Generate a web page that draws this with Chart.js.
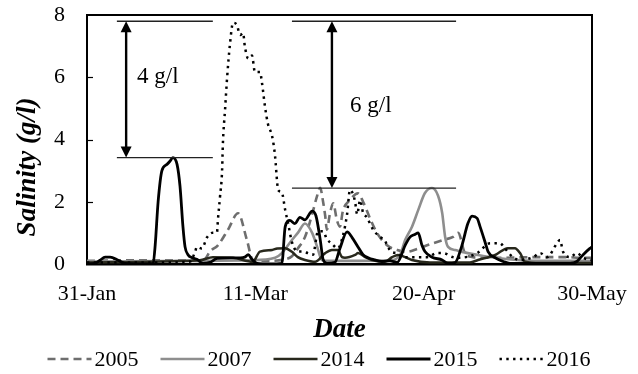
<!DOCTYPE html>
<html>
<head>
<meta charset="utf-8">
<script src="https://cdn.jsdelivr.net/npm/chart.js@4.4.1/dist/chart.umd.min.js"></script>
<style>
html,body{margin:0;padding:0;background:#ffffff;}
#wrap{width:638px;height:374px;position:relative;}
</style>
</head>
<body>
<div id="wrap"><canvas id="c" width="638" height="374"></canvas></div>
<script>
// ---------- DATA (days counted from 31-Jan; salinity in g/l) ----------
const seriesNames = ['2005', '2007', '2014', '2015', '2016'];
const tickDays   = [0, 40, 80, 120];
const tickLabels = ['31-Jan', '11-Mar', '20-Apr', '30-May'];
const yTicks     = [0, 2, 4, 6, 8];

const days2005 = [0, 10, 20, 26.1, 28.0, 29.2, 31.1, 33.5, 35.9, 38.0, 39.4, 42.3, 47.1, 48.7, 50.1, 51.8, 53.5, 54.7, 55.4, 56.1, 56.6, 57.0, 57.7, 58.5, 59.4, 60.1, 60.8, 62.5, 64.4, 65.6, 67.3, 68.9, 71.3, 73.7, 76.0, 78.4, 80.8, 84.6, 87.0, 88.2, 89.8, 91.7, 95.1, 98.1, 106.0, 110.0, 114.1, 117.2, 120];
const sal2005  = [0.1, 0.12, 0.12, 0.1, 0.15, 0.4, 0.6, 1.1, 1.63, 0.77, 0.13, 0.1, 0.15, 0.25, 0.5, 0.87, 1.6, 2.2, 2.45, 2.0, 1.55, 1.1, 1.6, 1.95, 1.4, 1.2, 1.7, 2.06, 2.27, 2.0, 1.45, 1.0, 0.6, 0.45, 0.39, 0.48, 0.6, 0.77, 0.87, 1.0, 0.35, 0.22, 0.2, 0.2, 0.22, 0.22, 0.22, 0.2, 0.2];

const days2007 = [0, 26.8, 38.7, 44.7, 46.3, 48.7, 50.1, 51.8, 53.5, 54.7, 55.8, 57.7, 64.9, 72.0, 74.4, 75.6, 77.2, 78.7, 80.3, 82.0, 83.4, 84.4, 85.1, 85.8, 87.5, 89.1, 92.9, 97.0, 102.9, 110.0, 120];
const sal2007  = [0.08, 0.1, 0.12, 0.2, 0.35, 0.77, 1.0, 1.3, 1.0, 0.55, 0.13, 0.1, 0.1, 0.12, 0.3, 0.77, 1.19, 1.73, 2.28, 2.44, 2.2, 1.64, 0.87, 0.55, 0.45, 0.39, 0.29, 0.2, 0.12, 0.1, 0.1];

const days2014 = [0, 26.8, 29.9, 34.7, 39.4, 41.1, 44.0, 45.2, 47.1, 48.7, 50.1, 51.8, 54.2, 56.6, 58.2, 59.6, 60.6, 61.3, 63.7, 64.4, 66.1, 67.7, 70.8, 72.5, 73.9, 75.6, 77.2, 81.5, 91.0, 92.9, 97.0, 100.0, 101.7, 102.9, 104.1, 107.7, 120];
const sal2014  = [0.05, 0.12, 0.22, 0.2, 0.07, 0.4, 0.45, 0.5, 0.51, 0.39, 0.22, 0.13, 0.07, 0.35, 0.45, 0.45, 0.22, 0.2, 0.29, 0.35, 0.22, 0.13, 0.07, 0.22, 0.29, 0.22, 0.13, 0.05, 0.05, 0.13, 0.29, 0.51, 0.51, 0.35, 0.07, 0.03, 0.03];

const days2015 = [0, 1.9, 3.1, 4.3, 5.5, 7.4, 9.0, 15.0, 15.7, 16.2, 16.9, 17.8, 19.0, 19.7, 20.4, 21.4, 22.1, 22.8, 23.3, 24.0, 25.0, 26.1, 27.6, 29.2, 30.9, 34.0, 36.4, 37.5, 38.3, 39.2, 40.4, 43.5, 46.3, 47.1, 48.2, 49.4, 50.6, 51.8, 53.5, 54.4, 55.4, 56.1, 57.0, 58.9, 60.1, 61.8, 63.0, 64.4, 65.6, 66.8, 68.4, 70.1, 72.0, 73.7, 75.6, 76.8, 77.9, 78.7, 79.6, 80.3, 82.0, 84.4, 85.8, 87.5, 89.1, 90.5, 91.5, 92.7, 93.4, 94.6, 95.3, 97.0, 98.9, 100.5, 114.8, 116.4, 117.9, 119.5, 120];
const sal2015  = [0, 0.02, 0.12, 0.22, 0.22, 0.12, 0.02, 0, 0.02, 0.6, 2.0, 3.0, 3.2, 3.3, 3.42, 3.2, 2.5, 1.2, 0.55, 0.3, 0.2, 0.15, 0.02, 0.05, 0.18, 0.2, 0.2, 0.22, 0.3, 0.15, 0.02, 0, 0.02, 1.2, 1.4, 1.3, 1.5, 1.42, 1.7, 1.55, 0.8, 0.15, 0.02, 0.05, 0.5, 1.03, 0.85, 0.55, 0.3, 0.2, 0.13, 0.08, 0.1, 0.05, 0.6, 0.87, 0.95, 1.0, 0.6, 0.4, 0.22, 0.13, 0.02, 0.05, 0.6, 1.3, 1.54, 1.47, 1.2, 0.7, 0.4, 0.2, 0.08, 0.02, 0.02, 0.08, 0.3, 0.5, 0.55];

const days2016 = [0, 10.2, 19.7, 24.5, 25.7, 26.1, 27.3, 28.5, 29.7, 30.9, 31.1, 31.6, 32.1, 32.3, 32.8, 33.3, 34.0, 34.7, 35.6, 36.4, 37.1, 37.5, 38.3, 39.2, 39.9, 41.1, 41.6, 42.3, 43.0, 44.0, 44.7, 45.2, 45.4, 46.3, 47.1, 47.8, 48.7, 50.1, 51.3, 52.5, 53.7, 54.9, 56.1, 57.0, 58.2, 59.6, 60.8, 61.8, 62.5, 63.2, 63.7, 64.2, 64.9, 65.6, 66.5, 68.0, 69.6, 70.8, 71.5, 72.5, 73.7, 75.1, 76.8, 78.4, 80.8, 83.2, 84.6, 87.0, 88.6, 92.7, 95.8, 98.1, 99.3, 101.2, 102.9, 106.0, 107.7, 109.3, 111.7, 112.4, 113.1, 114.8, 116.4, 117.9, 119.5, 120];
const sal2016  = [0.05, 0.05, 0.05, 0.08, 0.4, 0.55, 0.5, 0.85, 1.0, 1.03, 1.4, 2.15, 3.0, 3.9, 4.95, 6.0, 7.1, 7.75, 7.68, 7.36, 7.42, 7.0, 6.6, 6.7, 6.17, 6.17, 5.8, 5.05, 4.5, 4.1, 3.45, 2.6, 2.38, 2.3, 1.73, 1.3, 0.7, 0.4, 0.4, 0.35, 0.3, 1.05, 1.05, 0.8, 0.65, 0.5, 0.9, 1.6, 2.38, 2.25, 2.0, 1.6, 2.05, 1.65, 1.5, 1.1, 0.87, 0.75, 0.55, 0.38, 0.35, 0.22, 0.22, 0.22, 0.22, 0.35, 0.35, 0.22, 0.2, 0.35, 0.67, 0.67, 0.5, 0.22, 0.13, 0.22, 0.35, 0.22, 0.67, 0.77, 0.4, 0.22, 0.35, 0.2, 0.13, 0.12];

// ---------- annotation layout (in data units) ----------
const annoLines = [
  {x0: 7.1,  x1: 29.9, y: 7.8},
  {x0: 7.1,  x1: 29.9, y: 3.42},
  {x0: 48.7, x1: 87.7, y: 7.8},
  {x0: 48.7, x1: 87.7, y: 2.44}
];
const annoArrows = [
  {x: 9.3,  y0: 7.8, y1: 3.42},
  {x: 58.2, y0: 7.8, y1: 2.44}
];
const annoTexts = [
  {text: '4 g/l', x: 11.9, y: 6.0},
  {text: '6 g/l', x: 62.5, y: 5.07}
];
const xTitle = 'Date';
const yTitle = 'Salinity (g/l)';

// ---------- styles ----------
const styles = {
  '2005': {color: '#6e6e6e', width: 2.6, dash: [8, 5], order: 5, cap: 'butt'},
  '2007': {color: '#8e8e8e', width: 2.6, dash: [],     order: 4, cap: 'butt'},
  '2014': {color: '#28281c', width: 2.5, dash: [],     order: 3, cap: 'butt'},
  '2015': {color: '#000000', width: 2.8, dash: [],     order: 1, cap: 'butt'},
  '2016': {color: '#000000', width: 2.5, dash: [2.4, 4.4], order: 2, cap: 'butt'}
};
const seriesDays = {'2005': days2005, '2007': days2007, '2014': days2014, '2015': days2015, '2016': days2016};
const seriesVals = {'2005': sal2005, '2007': sal2007, '2014': sal2014, '2015': sal2015, '2016': sal2016};

const datasets = seriesNames.map(name => {
  const st = styles[name];
  return {
    label: name,
    data: seriesDays[name].map((d, i) => ({x: d, y: seriesVals[name][i]})),
    borderColor: st.color,
    backgroundColor: st.color,
    borderWidth: st.width,
    borderDash: st.dash,
    borderCapStyle: st.cap,
    pointRadius: 0,
    pointHoverRadius: 0,
    fill: false,
    cubicInterpolationMode: 'monotone',
    order: st.order
  };
});

const FONT = "'Liberation Serif', 'Times New Roman', serif";

const decor = {
  id: 'decor',
  afterDraw(chart) {
    const ctx = chart.ctx;
    const a = chart.chartArea;
    const xs = chart.scales.x, ys = chart.scales.y;
    ctx.save();
    // top & right frame
    ctx.strokeStyle = '#000';
    ctx.lineWidth = 2;
    ctx.beginPath();
    ctx.moveTo(a.left, a.top); ctx.lineTo(a.right, a.top); ctx.lineTo(a.right, a.bottom);
    ctx.stroke();
    // inner y ticks
    ctx.lineWidth = 1.2;
    yTicks.forEach(v => {
      if (v === 0 || v === 8) return;
      const py = Math.round(ys.getPixelForValue(v)) + 0.5;
      ctx.beginPath(); ctx.moveTo(a.left, py); ctx.lineTo(a.left + 6, py); ctx.stroke();
    });
    // annotation lines
    ctx.strokeStyle = '#222';
    ctx.lineWidth = 1.3;
    annoLines.forEach(l => {
      const py = ys.getPixelForValue(l.y);
      ctx.beginPath(); ctx.moveTo(xs.getPixelForValue(l.x0), py); ctx.lineTo(xs.getPixelForValue(l.x1), py); ctx.stroke();
    });
    // arrows
    ctx.strokeStyle = '#000'; ctx.fillStyle = '#000';
    annoArrows.forEach(ar => {
      const px = xs.getPixelForValue(ar.x);
      const p0 = ys.getPixelForValue(ar.y0), p1 = ys.getPixelForValue(ar.y1);
      const hl = 11, hw = 5.5;
      ctx.lineWidth = 2.4;
      ctx.beginPath(); ctx.moveTo(px, p0 + hl - 1); ctx.lineTo(px, p1 - hl + 1); ctx.stroke();
      ctx.beginPath(); ctx.moveTo(px, p0); ctx.lineTo(px - hw, p0 + hl); ctx.lineTo(px + hw, p0 + hl); ctx.closePath(); ctx.fill();
      ctx.beginPath(); ctx.moveTo(px, p1); ctx.lineTo(px - hw, p1 - hl); ctx.lineTo(px + hw, p1 - hl); ctx.closePath(); ctx.fill();
    });
    // annotation texts
    ctx.font = '23px ' + FONT;
    ctx.textAlign = 'left'; ctx.textBaseline = 'middle';
    annoTexts.forEach(t => {
      ctx.fillText(t.text, xs.getPixelForValue(t.x), ys.getPixelForValue(t.y));
    });
    // axis titles
    ctx.font = 'italic bold 27px ' + FONT;
    ctx.textAlign = 'center'; ctx.textBaseline = 'middle';
    ctx.fillText(xTitle, (a.left + a.right) / 2, 330);
    ctx.save();
    ctx.translate(28, 167);
    ctx.rotate(-Math.PI / 2);
    ctx.fillText(yTitle, 0, 0);
    ctx.restore();
    // legend
    ctx.font = '22px ' + FONT;
    ctx.textAlign = 'left'; ctx.textBaseline = 'middle';
    const lineLen = 44, gapText = 3, gapItem = 22;
    let total = 0;
    chart.data.datasets.forEach(ds => { total += lineLen + gapText + ctx.measureText(ds.label).width; });
    total += gapItem * (chart.data.datasets.length - 1);
    let x = 319 - total / 2;
    const ly = 359;
    chart.data.datasets.forEach(ds => {
      ctx.strokeStyle = ds.borderColor;
      ctx.lineWidth = ds.borderWidth;
      ctx.setLineDash(ds.borderDash || []);
      ctx.lineCap = ds.borderCapStyle || 'butt';
      ctx.beginPath(); ctx.moveTo(x, ly); ctx.lineTo(x + lineLen, ly); ctx.stroke();
      ctx.setLineDash([]);
      x += lineLen + gapText;
      ctx.fillStyle = '#000';
      ctx.fillText(ds.label, x, ly + 1);
      x += ctx.measureText(ds.label).width + gapItem;
    });
    ctx.restore();
  }
};

new Chart(document.getElementById('c'), {
  type: 'line',
  data: {datasets: datasets},
  options: {
    responsive: false,
    animation: false,
    devicePixelRatio: 1,
    layout: {padding: {top: 15, right: 46, left: 0, bottom: 0}},
    plugins: {legend: {display: false}, tooltip: {enabled: false}, title: {display: false}},
    scales: {
      x: {
        type: 'linear',
        min: 0, max: 120,
        grid: {display: false, drawTicks: false},
        border: {display: true, color: '#000', width: 2.5},
        afterFit(s) { s.height = 110; s.paddingLeft = 0; s.paddingRight = 0; },
        afterBuildTicks(s) { s.ticks = tickDays.map(v => ({value: v})); },
        ticks: {
          autoSkip: false, maxRotation: 0, padding: 17, color: '#000',
          font: {family: FONT, size: 22},
          callback(v) { const i = tickDays.indexOf(v); return i >= 0 ? tickLabels[i] : ''; }
        }
      },
      y: {
        type: 'linear',
        min: 0, max: 8,
        grid: {display: false, drawTicks: false},
        border: {display: true, color: '#000', width: 2},
        afterFit(s) { s.width = 87; s.paddingTop = 0; s.paddingBottom = 0; },
        afterBuildTicks(s) { s.ticks = yTicks.map(v => ({value: v})); },
        ticks: {padding: 22, color: '#000', font: {family: FONT, size: 22}}
      }
    }
  },
  plugins: [decor]
});
</script>
</body>
</html>
